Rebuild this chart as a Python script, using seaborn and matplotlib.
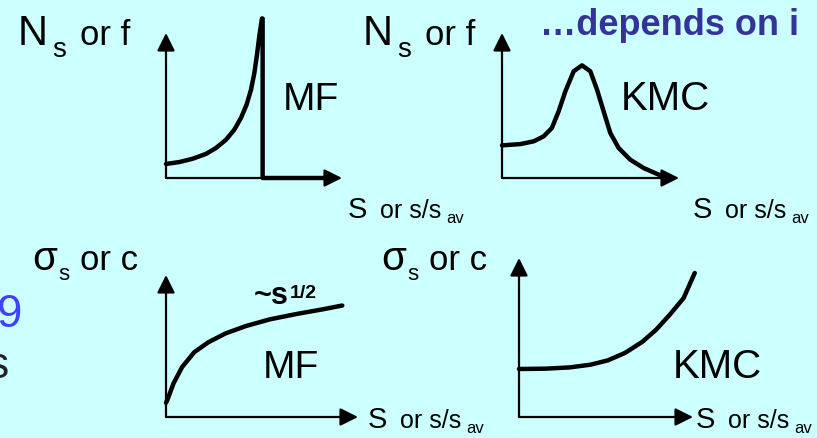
import seaborn as sns
import matplotlib.pyplot as plt
import pandas as pd

# curves, x and y as fraction of each axis length
mf_x = [0.0, 0.076, 0.152, 0.227, 0.284, 0.341, 0.388, 0.426, 0.458, 0.483, 0.502, 0.517,
        0.530, 0.545, 0.549, 0.549, 0.91]
mf_y = [0.097, 0.110, 0.133, 0.166, 0.207, 0.264, 0.333, 0.414, 0.506, 0.609, 0.724, 0.851,
        0.977, 1.100, 1.100, 0.0, 0.0]

kmc_x = [0.0, 0.104, 0.179, 0.235, 0.282, 0.320, 0.358, 0.405, 0.452, 0.499, 0.537, 0.574,
         0.612, 0.659, 0.725, 0.800, 0.876, 0.923]
kmc_y = [0.225, 0.234, 0.253, 0.287, 0.345, 0.460, 0.598, 0.736, 0.777, 0.736, 0.609, 0.460,
         0.310, 0.207, 0.126, 0.069, 0.028, 0.005]

sig_mf_x = [0.0, 0.007, 0.039, 0.084, 0.147, 0.219, 0.309, 0.417, 0.542, 0.686, 0.811, 0.918]
sig_mf_y = [0.100, 0.120, 0.236, 0.352, 0.456, 0.525, 0.588, 0.641, 0.688, 0.727, 0.757, 0.785]

sig_kmc_x = [0.0, 0.153, 0.292, 0.411, 0.510, 0.609, 0.708, 0.788, 0.867, 0.946, 1.010]
sig_kmc_y = [0.302, 0.304, 0.312, 0.329, 0.356, 0.403, 0.472, 0.549, 0.644, 0.748, 0.906]

W, H = 817, 438
BG = '#CCFFFF'

sns.set_theme(style='white')
plt.rcParams['font.family'] = ['Liberation Sans', 'DejaVu Sans']
plt.rcParams['text.color'] = 'black'

fig = plt.figure(figsize=(W / 100, H / 100), dpi=100)
fig.patch.set_facecolor(BG)


def txt(x, y, s, size, **kw):
    # x, y in pixels from top left, y is baseline
    fig.text(x / W, 1 - y / H, s, fontsize=size, va='baseline', ha='left', **kw)


def panel(ox, oy, w, h, xs, ys):
    ax = fig.add_axes([ox / W, 1 - oy / H, w / W, h / H])
    ax.set_xlim(0, 1)
    ax.set_ylim(0, 1)
    ax.axis('off')
    arrow = dict(arrowstyle='-|>,head_length=0.6,head_width=0.3', color='black',
                 lw=1.6, mutation_scale=18, shrinkA=0, shrinkB=0)
    ax.annotate('', xy=(1, 0), xytext=(0, 0), xycoords='axes fraction', arrowprops=arrow)
    ax.annotate('', xy=(0, 1), xytext=(0, 0), xycoords='axes fraction', arrowprops=arrow)
    df = pd.DataFrame({'x': xs, 'y': ys})
    sns.lineplot(data=df, x='x', y='y', sort=False, estimator=None, color='black',
                 lw=3.2, ax=ax, clip_on=False, solid_joinstyle='round')
    ax.set_xlabel('')
    ax.set_ylabel('')
    return ax


panel(166, 178, 176, 145, mf_x, mf_y)
panel(502, 178, 177, 145, kmc_x, kmc_y)
panel(166, 417, 192, 142, sig_mf_x, sig_mf_y)
panel(519, 417, 174, 159, sig_kmc_x, sig_kmc_y)

# y labels
for dx in [0, 345]:
    txt(18 + dx, 45, 'N', 30)
    txt(52 + dx, 57, 's', 20)
    txt(80 + dx, 45, 'or f', 25)
for dx in [0, 349]:
    txt(32 + dx, 270, '\u03c3', 29)
    txt(58 + dx, 280, 's', 16)
    txt(80 + dx, 270, 'or c', 25)

# x labels
for x, y in [(348, 218), (693, 218), (368, 428), (696, 428)]:
    txt(x, y, 'S', 21)
    txt(x + 32, y, 'or s/s', 18)
    txt(x + 98, y + 5, 'av', 12)

txt(283, 110, 'MF', 28)
txt(621, 110, 'KMC', 29)
txt(263, 378, 'MF', 28)
txt(673, 378, 'KMC', 29)

txt(254, 304, '~s', 22, fontweight='bold')
txt(290, 298, '1/2', 14, fontweight='bold')

txt(540, 35, '\u2026depends on i', 26, fontweight='bold', color='#333399')

# cut-off slide text at the left edge
txt(-3, 327, '9', 33, color='#4040FF')
txt(-13, 378, 's', 32, color='#222222')

fig.savefig('out.png', dpi=100, facecolor=BG)
